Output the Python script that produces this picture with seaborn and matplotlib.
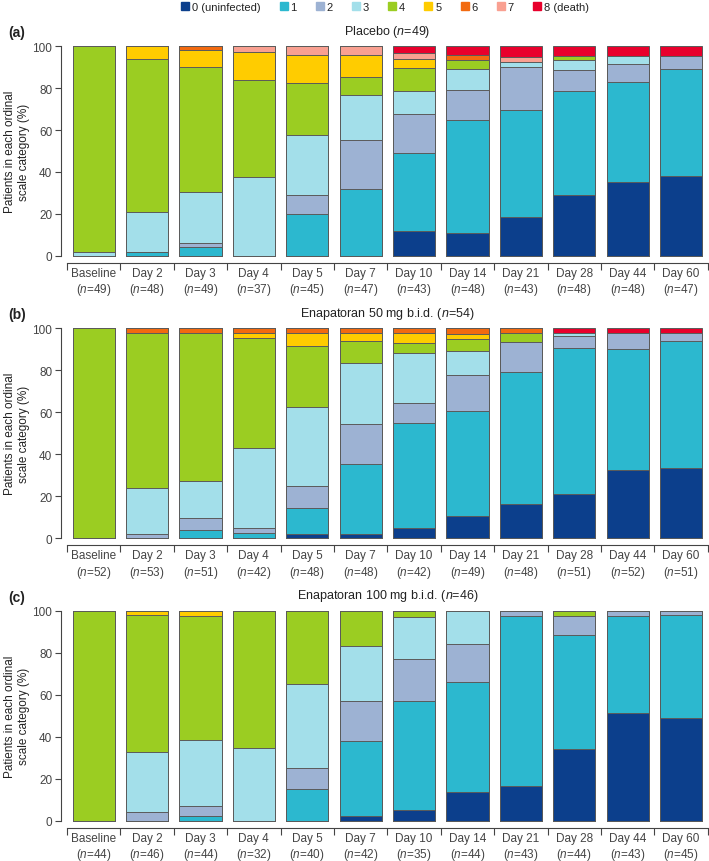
import numpy as np
import pandas as pd
import matplotlib
matplotlib.use("Agg")
import matplotlib.pyplot as plt
from matplotlib.lines import Line2D
import seaborn as sns

# ---------------- data ----------------
levels = ["0 (uninfected)", "1", "2", "3", "4", "5", "6", "7", "8 (death)"]
colors = ["#0c3f8c", "#2cb8cf", "#9db2d3", "#a3dfea", "#9bcd22",
          "#ffcc00", "#f26a10", "#f9a091", "#e8002c"]
days = ["Baseline", "Day 2", "Day 3", "Day 4", "Day 5", "Day 7", "Day 10",
        "Day 14", "Day 21", "Day 28", "Day 44", "Day 60"]

titles = ["Placebo", "Enapatoran 50 mg b.i.d.", "Enapatoran 100 mg b.i.d."]
title_n = [49, 54, 46]
panel_tags = ["(a)", "(b)", "(c)"]

n_placebo = [49, 48, 49, 37, 45, 47, 43, 48, 43, 48, 48, 47]
n_50mg = [52, 53, 51, 42, 48, 48, 42, 49, 48, 51, 52, 51]
n_100mg = [44, 46, 44, 32, 40, 42, 35, 44, 43, 44, 43, 45]

# percent of patients per ordinal category (0..8), one row per visit
pct_placebo = [
    [0, 0, 0, 2.0, 98.0, 0, 0, 0, 0],
    [0, 2.1, 0, 18.7, 72.9, 6.3, 0, 0, 0],
    [0, 4.1, 2.0, 24.5, 59.2, 8.2, 2.0, 0, 0],
    [0, 0, 0, 37.8, 45.9, 13.5, 0, 2.7, 0],
    [0, 20.0, 8.9, 28.9, 24.4, 13.3, 0, 4.5, 0],
    [0, 31.9, 23.4, 21.3, 8.5, 10.6, 0, 4.3, 0],
    [12.0, 37.2, 18.2, 11.2, 11.1, 4.3, 0, 2.5, 3.5],
    [10.8, 53.9, 14.3, 9.9, 4.5, 0, 2.2, 0, 4.4],
    [18.7, 50.9, 20.6, 2.2, 0, 0, 0, 2.2, 5.4],
    [29.1, 49.7, 10.0, 4.4, 1.9, 0, 0, 0, 4.9],
    [35.4, 47.4, 8.5, 4.1, 0, 0, 0, 0, 4.6],
    [38.1, 51.1, 5.9, 0, 0, 0, 0, 0, 4.9],
]
pct_50mg = [
    [0, 0, 0, 0, 100.0, 0, 0, 0, 0],
    [0, 0, 1.9, 22.1, 73.6, 0, 2.4, 0, 0],
    [0, 3.9, 5.6, 17.6, 70.5, 0, 2.4, 0, 0],
    [0, 2.4, 2.5, 38.0, 52.3, 2.4, 2.4, 0, 0],
    [2.1, 12.5, 10.4, 37.5, 29.2, 6.2, 2.1, 0, 0],
    [2.1, 33.3, 18.8, 29.2, 10.4, 4.2, 2.0, 0, 0],
    [4.8, 50.0, 9.5, 23.8, 4.8, 4.8, 2.3, 0, 0],
    [10.5, 50.0, 17.1, 11.7, 5.5, 2.6, 2.6, 0, 0],
    [16.5, 62.8, 14.0, 0, 4.3, 0, 2.4, 0, 0],
    [21.2, 69.3, 5.7, 1.6, 0, 0, 0, 0, 2.2],
    [32.5, 57.6, 7.7, 0, 0, 0, 0, 0, 2.2],
    [33.5, 60.3, 3.8, 0, 0, 0, 0, 0, 2.4],
]
pct_100mg = [
    [0, 0, 0, 0, 100.0, 0, 0, 0, 0],
    [0, 0, 4.3, 28.3, 65.2, 2.2, 0, 0, 0],
    [0, 2.3, 4.5, 31.8, 59.1, 2.3, 0, 0, 0],
    [0, 0, 0, 34.4, 65.6, 0, 0, 0, 0],
    [0, 15.0, 10.0, 40.0, 35.0, 0, 0, 0, 0],
    [2.4, 35.7, 19.0, 26.2, 16.7, 0, 0, 0, 0],
    [5.0, 51.8, 20.0, 20.3, 2.9, 0, 0, 0, 0],
    [13.6, 52.3, 18.2, 15.9, 0, 0, 0, 0, 0],
    [16.3, 81.4, 2.3, 0, 0, 0, 0, 0, 0],
    [34.1, 54.5, 9.1, 0, 2.3, 0, 0, 0, 0],
    [51.2, 46.5, 2.3, 0, 0, 0, 0, 0, 0],
    [48.9, 48.9, 2.2, 0, 0, 0, 0, 0, 0],
]

panels = [(pct_placebo, n_placebo), (pct_50mg, n_50mg), (pct_100mg, n_100mg)]

# ---------------- style ----------------
sns.set_theme(style="ticks")
plt.rcParams["font.family"] = ["Liberation Sans", "DejaVu Sans"]
plt.rcParams["mathtext.fontset"] = "custom"
plt.rcParams["mathtext.rm"] = "Liberation Sans"
plt.rcParams["mathtext.it"] = "Liberation Sans:italic"
plt.rcParams["axes.edgecolor"] = "#444444"
plt.rcParams["xtick.color"] = "#444444"
plt.rcParams["ytick.color"] = "#444444"
plt.rcParams["text.color"] = "#222222"
plt.rcParams["axes.labelcolor"] = "#222222"

W, H = 709, 862
fig = plt.figure(figsize=(W / 100, H / 100), dpi=100)

left_px, right_px = 67, 707.7
zero_px = [257, 539.3, 821.7]
height_px = 210

for i, ((pct, ns), title, tn, tag) in enumerate(zip(panels, titles, title_n, panel_tags)):
    bottom = (H - zero_px[i]) / H
    ax = fig.add_axes([left_px / W, bottom, (right_px - left_px) / W, height_px / H])
    df = pd.DataFrame(pct, columns=levels)
    df.insert(0, "day", days)
    cum = df[levels].cumsum(axis=1)
    # draw cumulative bars from the highest level down so lower levels overlay
    for k in range(len(levels) - 1, -1, -1):
        sns.barplot(x=df["day"], y=cum[levels[k]], color=colors[k], order=days,
                    width=0.79, edgecolor="#5a5a5a", linewidth=0.7,
                    saturation=1, errorbar=None, ax=ax)
    for p in ax.patches:
        p.set_clip_on(False)
    ax.set_ylim(0, 100)
    ax.set_xlim(-0.5, len(days) - 0.5)
    ax.set_yticks([0, 20, 40, 60, 80, 100])
    ax.tick_params(axis="y", labelsize=8.5, length=4, width=0.8, pad=2)
    # x ticks: marks at bar boundaries, labels at bar centers
    ax.set_xticks(np.arange(-0.5, len(days) + 0.5, 1.0))
    ax.set_xticklabels([])
    ax.set_xticks(np.arange(len(days)), minor=True)
    ax.set_xticklabels([f"{d}\n($\\it{{n}}$={n})" for d, n in zip(days, ns)],
                       minor=True, linespacing=1.2)
    ax.tick_params(axis="x", which="major", length=5, width=0.8)
    ax.tick_params(axis="x", which="minor", length=0, pad=3, labelsize=8.5)
    ax.set_xlabel("")
    ax.set_ylabel("Patients in each ordinal\nscale category (%)", fontsize=8.5,
                  linespacing=1.3)
    ax.yaxis.set_label_coords(-0.057, 0.5)
    sns.despine(ax=ax)
    ax.spines["left"].set_position(("outward", 4.5))
    ax.spines["bottom"].set_position(("outward", 5))
    ax.spines["left"].set_linewidth(0.8)
    ax.spines["bottom"].set_linewidth(0.8)
    ax.set_title(f"{title} ($\\it{{n}}$={tn})", fontsize=9, pad=9)
    fig.text(8 / W, 1 - (zero_px[i] - 224) / H, tag, fontsize=10,
             fontweight="bold", ha="left", va="center")

handles = [Line2D([0], [0], marker="s", linestyle="none", markersize=5.5,
                  markerfacecolor=c, markeredgecolor=c) for c in colors]
fig.legend(handles, levels, loc="center", bbox_to_anchor=(384 / W, 1 - 8 / H),
           ncol=9, frameon=False, fontsize=8, handletextpad=0.1,
           columnspacing=1.6, handlelength=1.0)

fig.savefig("out.png", dpi=100)
